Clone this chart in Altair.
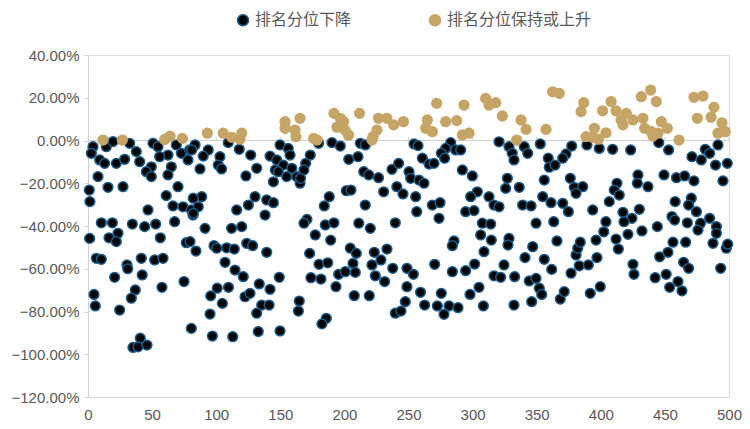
import altair as alt
import pandas as pd

# ---- data (x = rank position, y = change in %) ----
down_x = [3.9,2.6,14.3,19.5,32.5,37.7,9.1,13,22.1,28.6,40.3,50.7,54.6,62.4,55.9,68.9,72.8,79.3,78,49.4,45.5,49.4,65,62.4,7.8,70.2,1,1.5,15.6,27.3,61,46.8,66.3,74.1,80.6,81.9,10.4,19,34.6,44.2,52.8,67.6,
          1.3,16.4,23.4,22.1,56.4,76.7,6.5,10.4,30.4,31,41.6,52,58.5,20.8,42.3,57.7,74.9,4.7,5.7,36.9,33.8,24.7,80.6,40.8,35.1,39,46,
          83.5,80.9,93.8,89.9,102.9,101.6,104.2,87.4,109.4,118,126.9,131.6,123.2,142,149.8,156.2,157.6,147.2,152.3,146.1,148.4,159,155,162.8,165.4,144.6,88.7,82.1,86,82.1,130.3,125.1,139.4,144.6,116,138.1,91.3,112,119.9,
          79.6,84.2,98.3,100.4,108.2,114.1,123.8,128.4,139.4,106.9,114.7,121.1,149.2,100.8,109.6,95.7,104.8,95.2,133.6,142,122.5,126.4,135.5,141.3,131.6,164.8,164.1,97,112.9,132.8,149.8,
          179.9,190.3,196.8,212.4,216.3,173.4,169.8,168.4,165.8,203.4,210.6,215.1,219,226.6,237.1,242.3,240.9,245.7,230.6,201.5,205.1,188.2,184.3,216.3,170.8,168.5,185.1,191.8,211.2,220.2,239.7,
          177.3,189.3,172.9,180.2,187,204.6,209.3,206.7,195.5,200.7,208.5,173.9,181.7,193.4,223.3,233.2,228.5,221.5,224.1,231.4,237.7,248.8,248.8,207.7,219.4,185.9,182.5,239.7,244.1,247.5,
          254.3,257.4,282.9,279,286.8,290.7,275.6,278.2,260.8,266,269.9,320.6,328.4,330.9,332.3,292,299.8,250.4,251.7,258.2,262.1,255.6,303.7,298.5,312.8,316.7,320.6,327.1,325.8,268.6,274.6,256.4,273.8,294.6,301.1,307.6,314.1,
          285.5,284.2,306.3,314.6,308.9,328.4,327.6,253.8,270.4,284.2,294.6,301.6,324.5,316.7,321.9,332.8,259.4,275.6,262.6,272.5,281.6,288.6,277.7,298,305,308.4,332.3,
          340.3,343,352.8,377.3,389.2,398.8,409.2,359,372.9,370.3,359.8,364.3,355.9,376.2,379.3,385.9,380.7,336.4,339,345.6,354.7,361.2,370.3,374.7,393.7,406.6,412.6,410.5,414.4,349.5,363.3,404,
          346.9,365.8,340.9,355.9,361.7,344.2,349.5,352,353.9,346.1,368.4,371.5,380.7,382,384,376.8,383.2,390.3,397,396.3,402.3,411.9,413.7,391.8,399.6,
          423.3,445.2,452.9,471.1,478.4,481.5,484.9,491.4,489.5,498.7,495.3,429,428.5,436.8,449.3,459,465.4,472.7,470.6,468.5,474.6,458,430.1,417.3,424.3,418.1,455.5,457.6,467.5,477.8,484.9,490.2,444.1,
          421.2,432.1,475.8,490.2,456.3,466.2,487.5,497.9,445.9,452.4,425.1,425.9,464.6,468.5,493.5,442.4,451,460.2,453.7,463.3,499]
down_y = [-2.9,-6,-2.9,-0.5,-1.3,-5.2,-9.1,-10.7,-10.7,-8.8,-9.9,-1.3,-2.9,-6.8,-7.6,-2.1,-6,-4.4,-9.1,-12.3,-14.6,-16.9,-12.3,-16.1,-16.9,-21.6,-23.2,-28.6,-21.9,-21.6,-25.8,-32.5,-30.6,-31,-32.5,-34.9,-38.5,-38.5,-39.1,-40.3,-39.1,-38,
          -45.8,-45.5,-43.4,-47.3,-45.5,-47.8,-55.1,-55.6,-58.2,-60,-55.1,-55.9,-55.1,-64,-62.9,-68.7,-66,-72,-77.4,-69.9,-73.8,-79.3,-87.9,-92.5,-96.8,-96.5,-95.7,
          -2.1,-4.4,-4.4,-7.3,-7.6,-11.5,-13.3,-13.3,-1,-4.1,-6.8,-13,-16.6,-7.3,-2.1,-3.7,-6.8,-9.1,-11.5,-13.8,-14.6,-13,-16.9,-16.9,-20,-19.3,-26.3,-27,-31,-34.1,-26.3,-30.2,-27.8,-29.1,-32.5,-34.9,-41.1,-41.1,-40.3,
          -47.3,-51.7,-49.2,-50.4,-50.2,-50.8,-48.1,-49.2,-52.3,-57,-60.6,-63.7,-64,-69.1,-68.7,-72.7,-76.2,-81.2,-67.1,-69.6,-73.1,-71.5,-77,-77,-80.8,-75.1,-79.8,-91.5,-91.8,-89.4,-89.1,
          -1.3,-1,-2.6,-1.3,-2.1,-6.8,-10.7,-13.8,-17.7,-8.8,-7.6,-14.6,-16.1,-17.4,-13.5,-10.7,-21.6,-25,-24,-23.5,-23.2,-26.3,-30.6,-30.2,-36.9,-38.7,-39.5,-38.5,-38.7,-41.1,-38.5,
          -44.2,-46.6,-52.8,-57.9,-57.2,-50.4,-52.8,-57.5,-62.6,-61.4,-61.7,-64.2,-64.8,-68.4,-52.3,-50.8,-55.9,-58.2,-63.3,-66,-59.8,-59.8,-68.4,-72.6,-72.6,-83.2,-85.8,-80.8,-79.8,-75.4,
          -1.6,-2.4,-1,-3.7,-4.4,-4.4,-6,-8.3,-8.3,-11,-10.7,-0.6,-2.9,-6,-9.1,-13.8,-16.6,-14.6,-17.7,-18.5,-20,-26.3,-24,-26.3,-26.3,-30.2,-31,-17.7,-22.4,-30.2,-29.1,-33.3,-36.4,-33.3,-32.8,-38.7,-39.1,
          -47,-49.2,-44.2,-46.6,-52,-45.8,-48.9,-62.6,-57.9,-61.4,-60.9,-57.8,-58.2,-63.3,-64,-63.7,-71,-71.5,-77,-77.4,-77.4,-78.2,-81.3,-72,-68.7,-77.4,-77,
          -2.9,-6,-1.6,-2.6,-2.1,-3.7,-4.1,-8.3,-6.3,-8.3,-12.5,-11.5,-18.5,-17.7,-21.9,-21.6,-24.7,-21.9,-30.2,-30.6,-26.3,-29.1,-29.4,-33.3,-32.5,-28.6,-20,-23.2,-25.5,-38.7,-38,-38,
          -49.7,-47,-54.8,-55.6,-60.3,-65.7,-64.5,-69.1,-72,-75.4,-74.2,-70.7,-53.6,-50.4,-47.6,-62.1,-58.6,-58.2,-54.8,-46.6,-42.7,-46.1,-50.8,-71.5,-68.4,
          -4.4,-1,-4.4,-7.6,-9.1,-4.1,-6,-2.1,-11.5,-10.7,-18.9,-16.1,-20,-21.6,-16.1,-17.4,-16.6,-18.9,-27,-30.2,-33.3,-28.6,-32.2,-33.6,-36.4,-38,-35.6,-37.2,-38.5,-38.7,-36.4,-40.3,-40.3,
          -43.9,-42.3,-41.9,-43.4,-47.6,-47.6,-48.1,-50.4,-54.4,-52.3,-57.9,-62.6,-57,-59.8,-59.8,-64.2,-62.6,-66,-68.7,-70.3,-48.5]

up_x = [11.7,26.8,59.8,64,73.6,93.1,105.5,112,118.5,119.9,153.7,153.7,161.5,162.2,165.4,
        176,178.7,191.8,196.8,199.4,194.2,200.4,203.2,211.8,226.6,233.1,238.4,246,225.4,222.3,221.5,
        272,293.3,264.7,263.4,268.6,279,287.6,292,297.2,310.2,312.8,318,323.2,334.4,
        362.4,367.6,337.8,341.7,357.3,386.7,384.6,401.4,408,411.9,415.8,395,404,388.5,393.7,398.1,
        431.6,438.9,443.3,472.7,479.7,488.3,475.3,486,494.5,491.4,497.1,419.9,417.3,425.1,432.9,434.2,439.4,447.2,451.9,444.6,440.7,461]
up_y = [0.2,0.2,0.5,2,1,3.4,3.4,1.5,0.6,3.4,8.8,5.7,4.9,1.8,10.4,
        1,0.2,12.7,10.4,8.8,6.2,4.9,2.6,12.7,10.4,10.4,7.3,8.8,4.9,1.8,0.2,
        17.4,16.6,9.6,5.7,4.1,8.8,9.3,2.6,3.4,19.7,16.6,17.7,11.5,0.2,
        22.8,22.1,9.6,5.2,5.2,17.7,13.5,13.9,18.2,13.9,9.6,5.7,3.6,1.8,1.5,0.6,
        20.5,23.6,18.2,20.2,20.8,15.5,10.4,10.9,8.3,3.4,4.1,12.7,7.3,9.6,10.4,5.7,4.1,8.8,5.7,3.4,2.1,0.2]

series_names = ["排名分位下降", "排名分位保持或上升"]
x_ticks = [0, 50, 100, 150, 200, 250, 300, 350, 400, 450, 500]
y_ticks = [0.4, 0.2, 0.0, -0.2, -0.4, -0.6, -0.8, -1.0, -1.2]

# ---- build tables ----
df = pd.concat([
    pd.DataFrame({"x": down_x, "y": [v / 100 for v in down_y], "s": series_names[0]}),
    pd.DataFrame({"x": up_x, "y": [v / 100 for v in up_y], "s": series_names[1]}),
], ignore_index=True)
df["order"] = range(len(df))
tick_df = pd.DataFrame({"x": x_ticks, "y": 0.0, "y2": 0.016})
zero_df = pd.DataFrame({"x": [0], "x2": [500], "y": [0.0]})

GREY = "#595959"
LINE = "#d0d0d0"

xscale = alt.Scale(domain=[0, 500], nice=False, zero=False)
yscale = alt.Scale(domain=[-1.2, 0.4], nice=False, zero=False)

zero_line = alt.Chart(zero_df).mark_rule(color=LINE, strokeWidth=1).encode(
    x=alt.X("x:Q", scale=xscale), x2="x2:Q", y=alt.Y("y:Q", scale=yscale)
)
ticks = alt.Chart(tick_df).mark_rule(color=LINE, strokeWidth=1).encode(
    x=alt.X("x:Q", scale=xscale), y=alt.Y("y:Q", scale=yscale), y2="y2:Q"
)

legend_kw = dict(title=None, orient="none", legendX=147, legendY=-43,
                 direction="horizontal", labelFontSize=16, labelColor=GREY,
                 labelFont="Noto Sans CJK SC", symbolSize=120, columnPadding=74,
                 labelOffset=4, padding=0, labelLimit=400)

points = alt.Chart(df).mark_point(filled=True, shape="circle", size=95, strokeWidth=1.5, opacity=1).encode(
    x=alt.X("x:Q", scale=xscale,
            axis=alt.Axis(values=x_ticks, title=None, domain=False, ticks=False, grid=False,
                          labelFlush=False, labelFontSize=15, labelColor=GREY, labelPadding=10,
                          labelFont="Liberation Sans")),
    y=alt.Y("y:Q", scale=yscale,
            axis=alt.Axis(values=y_ticks, format=".2%",
                          title=None, grid=False, domain=True, domainColor=LINE, ticks=True,
                          tickColor=LINE, tickSize=4, labelFontSize=15, labelColor=GREY,
                          labelPadding=5, labelFlush=False, labelFont="Liberation Sans")),
    fill=alt.Fill("s:N", scale=alt.Scale(domain=series_names, range=["#050505", "#c5a466"]),
                  legend=alt.Legend(**legend_kw)),
    stroke=alt.Stroke("s:N", scale=alt.Scale(domain=series_names, range=["#1b5c8a", "#c5a466"]),
                      legend=alt.Legend(**legend_kw)),
    order=alt.Order("order:Q"),
)

chart = alt.layer(zero_line, ticks, points).properties(
    width=641, height=342,
    autosize=alt.AutoSizeParams(type="none"),
    padding={"left": 80, "top": 47, "right": 13, "bottom": 24},
).configure_view(stroke=None).configure(background="white")

chart.save("out.html", embed_options={"renderer": "svg", "actions": False})
